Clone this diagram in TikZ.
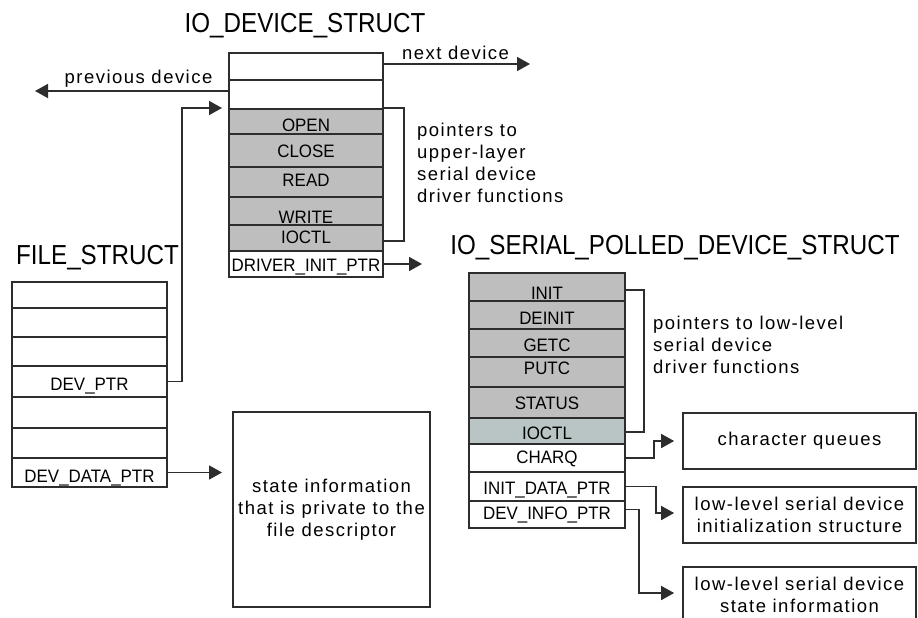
\documentclass[tikz,border=0pt]{standalone}
\usepackage{fontspec}
\setmainfont{Liberation Sans}
\newfontfamily\lblfont[LetterSpace=8]{Liberation Sans}
\newfontfamily\fieldfont[FakeStretch=0.94]{Liberation Sans}
\newfontfamily\titlefont[FakeStretch=0.88]{Liberation Sans}
\usetikzlibrary{arrows.meta}
\definecolor{ln}{RGB}{45,45,45}
\definecolor{gfill}{RGB}{190,190,190}
\definecolor{bfill}{RGB}{185,196,196}
\newcommand\shiftdn[2]{\raisebox{-#1pt}{#2}}
\tikzset{
  field/.style={draw=ln, line width=1.7pt, minimum width=154pt, inner sep=0pt,
    text height=13pt, text depth=0pt, font=\fieldfont\fontsize{18}{18}\selectfont, text=black},
  gfield/.style={field, fill=gfill},
  wfield/.style={field, fill=white},
  ttl/.style={font=\titlefont\fontsize{27.5}{27.5}\selectfont, inner sep=0pt},
  lbl/.style={font=\lblfont\fontsize{18.5}{22}\selectfont, align=left, inner sep=0pt},
  conn/.style={draw=ln, line width=1.7pt},
  arr/.style={conn, -{Triangle[length=13pt,width=14pt]}},
  infobox/.style={draw=ln, line width=1.7pt, fill=white, inner sep=0pt, align=center,
    font=\lblfont\fontsize{18.5}{22}\selectfont}
}
\begin{document}
\begin{tikzpicture}[x=1pt,y=-1pt]
\clip (0,0) rectangle (918,618);
\fill[white] (0,0) rectangle (918,618);

% titles
\node[ttl] (t1) at (305,26) {IO\_DEVICE\_STRUCT};
\node[ttl] (t2) at (97.5,258) {FILE\_STRUCT};
\node[ttl] (t3) at (675,248) {IO\_SERIAL\_POLLED\_DEVICE\_STRUCT};

% IO_DEVICE_STRUCT
\node[wfield, minimum height=27pt] (r1) at (306,66.5) {};
\node[wfield, minimum height=29pt] (r2) at (306,94.5) {};
\node[gfield, minimum height=25pt] (open) at (306,121.5) {\shiftdn{3.5}{OPEN}};
\node[gfield, minimum height=33pt] (close) at (306,150.5) {CLOSE};
\node[gfield, minimum height=30pt] (read) at (306,182) {\shiftdn{-2}{READ}};
\node[gfield, minimum height=28pt] (write) at (306,211) {\shiftdn{6}{WRITE}};
\node[gfield, minimum height=26pt] (ioctl) at (306,238) {\shiftdn{-1}{IOCTL}};
\node[wfield, minimum height=26pt] (drv) at (306,264) {\shiftdn{1}{DRIVER\_INIT\_PTR}};

% FILE_STRUCT
\node[wfield, minimum width=155pt, minimum height=26pt] (f1) at (89.5,295) {};
\node[wfield, minimum width=155pt, minimum height=29pt] (f2) at (89.5,322.5) {};
\node[wfield, minimum width=155pt, minimum height=29pt] (f3) at (89.5,351.5) {};
\node[wfield, minimum width=155pt, minimum height=31pt] (fdev) at (89.5,381.5) {\shiftdn{2.5}{DEV\_PTR}};
\node[wfield, minimum width=155pt, minimum height=31pt] (f5) at (89.5,412.5) {};
\node[wfield, minimum width=155pt, minimum height=30pt] (f6) at (89.5,443) {};
\node[wfield, minimum width=155pt, minimum height=29pt] (fdata) at (89.5,472.5) {\shiftdn{3.5}{DEV\_DATA\_PTR}};

% IO_SERIAL_POLLED_DEVICE_STRUCT
\node[gfield, minimum width=156pt, minimum height=28pt] (init) at (547,287) {\shiftdn{6}{INIT}};
\node[gfield, minimum width=156pt, minimum height=28pt] (deinit) at (547,315) {\shiftdn{3}{DEINIT}};
\node[gfield, minimum width=156pt, minimum height=28pt] (getc) at (547,343) {\shiftdn{2}{GETC}};
\node[gfield, minimum width=156pt, minimum height=30pt] (putc) at (547,372) {\shiftdn{-4}{PUTC}};
\node[gfield, minimum width=156pt, minimum height=31pt] (status) at (547,402.5) {STATUS};
\node[field, fill=bfill, minimum width=156pt, minimum height=26pt] (ioctl2) at (547,431) {\shiftdn{2}{IOCTL}};
\node[wfield, minimum width=156pt, minimum height=28pt] (charq) at (547,458) {\shiftdn{-1}{CHARQ}};
\node[wfield, minimum width=156pt, minimum height=29pt] (initdata) at (547,486.5) {\shiftdn{1.5}{INIT\_DATA\_PTR}};
\node[wfield, minimum width=156pt, minimum height=27pt] (devinfo) at (547,514.5) {\shiftdn{-1.5}{DEV\_INFO\_PTR}};

% info boxes
\node[infobox, minimum width=197pt, minimum height=195pt] (state) at (331.5,509.5)
  {state information\\that is private to the\\file descriptor};
\node[infobox, minimum width=233pt, minimum height=56pt] (cq) at (799.5,441) {character queues};
\node[infobox, minimum width=233pt, minimum height=56pt] (b2) at (799.5,515)
  {low-level serial device\\initialization structure};
\node[infobox, minimum width=233pt, minimum height=55pt] (b3) at (799.5,594.5)
  {low-level serial device\\state information};

% labels
\node[lbl] (prevl) at (138.5,79) {previous device};
\node[lbl] (nextl) at (455.5,53) {next device};
\node[lbl, anchor=west] (upl) at (417,162.5) {pointers to\\upper-layer\\serial device\\driver functions};
\node[lbl, anchor=west] (lowl) at (653,345) {pointers to low-level\\serial device\\driver functions};

% free ends
\coordinate (prevtip) at (35,91);
\coordinate (nexttip) at (530,64);
\coordinate (devtip) at (222,108);
\coordinate (ddtip) at (222,472.5);
\coordinate (drvtip) at (422,264);

% connectors
\draw[arr] ([yshift=3.5pt]r2.west) -- (prevtip);
\draw[arr] ([yshift=2.5pt]r1.east) -- (nexttip);
\draw[arr] (fdev.east) -- ++(14,0) |- (devtip);
\draw[arr] (fdata.east) -- (ddtip);
\draw[arr] (drv.east) -- (drvtip);
\draw[conn] (open.north east) -| ([xshift=20pt,yshift=-3pt]ioctl.east) -- ([yshift=-3pt]ioctl.east);
\draw[conn] ([yshift=-3pt]init.east) -| ([xshift=18pt,yshift=-1pt]ioctl2.east) -- ([yshift=-1pt]ioctl2.east);
\draw[arr] (charq.east) -- ++(28,0) |- ([xshift=-8pt]cq.west);
\draw[arr] (initdata.east) -- ++(30,0) |- ([xshift=-8pt,yshift=2pt]b2.west);
\draw[arr] ([yshift=5pt]devinfo.east) -- ++(13,0) |- ([xshift=-8pt,yshift=1.5pt]b3.west);
\end{tikzpicture}
\end{document}
